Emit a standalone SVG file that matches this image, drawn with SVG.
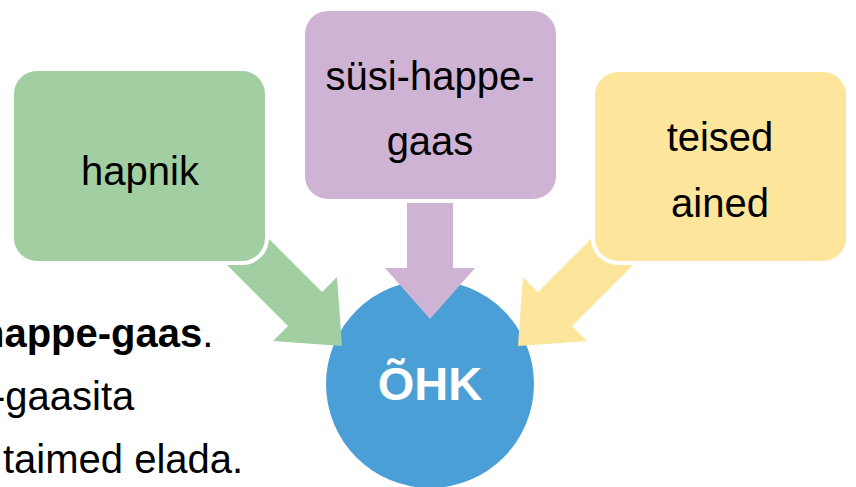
<svg xmlns="http://www.w3.org/2000/svg" width="856" height="487" viewBox="0 0 856 487">
<style>
.lbl{font-family:"Liberation Sans",Arial,sans-serif;font-size:40px;fill:#000;text-anchor:middle}
.body{font-family:"Liberation Sans",Arial,sans-serif;font-size:40px;fill:#000;text-anchor:start}
.box{stroke:#fff;stroke-width:4}
</style>
<rect width="856" height="487" fill="#fff"/>
<g id="text-left">
<text class="body" x="-20" y="347"><tspan font-weight="bold">happe-gaas</tspan>.</text>
<text class="body" x="-8" y="410">-gaasita</text>
<text class="body" x="3" y="473">taimed elada.</text>
</g>
<g id="node-ohk">
<circle cx="430" cy="384" r="104" fill="#4a9fd6"/>
<text x="430" y="400" font-family="Liberation Sans,Arial,sans-serif" font-weight="bold" font-size="47" fill="#fff" text-anchor="middle">ÕHK</text>
</g>
<g id="connectors">
<polygon fill="#a1cfa2" points="244,214 322,292 337,277 342,346 273,341 288,326 210,248"/>
<polygon fill="#fde59c" points="616,214 538,292 523,277 518,346 587,341 572,326 650,248"/>
<polygon fill="#cfb3d4" points="407,190 453,190 453,268 475,268 430,319 385,268 407,268"/>
</g>
<g id="node-hapnik">
<rect class="box" x="12" y="69" width="255" height="194" rx="25" fill="#a1cfa2"/>
<text class="lbl" x="140" y="185">hapnik</text>
</g>
<g id="node-susihappegaas">
<rect class="box" x="303" y="9" width="255" height="192" rx="25" fill="#cfb3d4"/>
<text class="lbl" x="430" y="90">süsi-happe-</text>
<text class="lbl" x="430" y="155">gaas</text>
</g>
<g id="node-teised">
<rect class="box" x="593" y="70" width="255" height="193" rx="25" fill="#fde59c"/>
<text class="lbl" x="720" y="151">teised</text>
<text class="lbl" x="720" y="217">ained</text>
</g>
</svg>
